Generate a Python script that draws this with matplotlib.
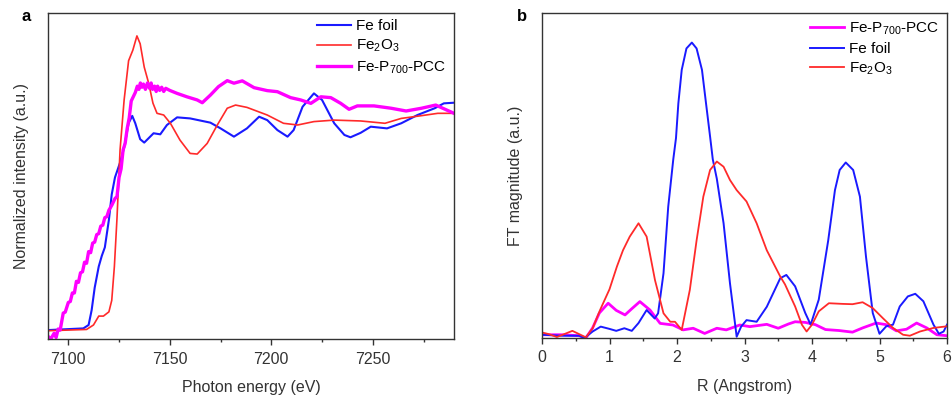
import matplotlib.pyplot as plt
from matplotlib.ticker import MultipleLocator

plt.rcParams['font.family'] = ['Liberation Sans', 'DejaVu Sans']
plt.rcParams['mathtext.fontset'] = 'custom'
plt.rcParams['mathtext.rm'] = 'Liberation Sans'
plt.rcParams['mathtext.it'] = 'Liberation Sans:italic'
plt.rcParams['mathtext.default'] = 'regular'

# ---- panel a: XANES (normalized intensity) ----
foil_e = [7090, 7107.4, 7110, 7111.5, 7113, 7115, 7116.5, 7118, 7120, 7121.4, 7123,
          7125.5, 7127.5, 7129.7, 7131.5, 7133, 7135.4, 7137.4, 7139.6, 7142, 7145.3,
          7148.6, 7153.6, 7160, 7170, 7175, 7181.6, 7188, 7194, 7198, 7203, 7208, 7211,
          7215.4, 7221, 7225, 7231, 7236, 7239, 7244, 7249, 7257, 7264, 7272, 7280.5,
          7285, 7290]
foil_mu = [0.0, 0.008, 0.024, 0.094, 0.20, 0.30, 0.35, 0.39, 0.52, 0.64, 0.72,
           0.79, 0.86, 0.975, 1.01, 0.975, 0.90, 0.884, 0.905, 0.928, 0.923,
           0.967, 1.003, 0.998, 0.978, 0.951, 0.912, 0.951, 1.006, 0.99, 0.943, 0.912, 0.943,
           1.053, 1.116, 1.085, 0.975, 0.92, 0.909, 0.93, 0.959, 0.951, 0.975, 1.014, 1.046,
           1.069, 1.072]

oxide_e = [7090, 7109, 7112.4, 7115, 7117.3, 7120, 7121.4, 7122.7, 7124, 7125.5, 7127.5,
           7129.7, 7131.8, 7133.8, 7135.4, 7137.4, 7139.6, 7141.7, 7143.7, 7147, 7150.3,
           7155, 7160, 7163.5, 7168.4, 7173.4, 7178.3, 7182.4, 7188, 7198, 7206, 7213,
           7221, 7231, 7244, 7256, 7264, 7274, 7282, 7290]
oxide_mu = [-0.003, 0.003, 0.024, 0.066, 0.066, 0.086, 0.14, 0.30, 0.53, 0.85, 1.085,
            1.27, 1.32, 1.387, 1.35, 1.24, 1.164, 1.07, 1.022, 1.014, 0.975,
            0.896, 0.833, 0.83, 0.88, 0.967, 1.046, 1.061, 1.05, 1.014, 0.975, 0.967,
            0.983, 0.99, 0.986, 0.975, 0.998, 1.011, 1.022, 1.022]

pcc_e = [7090, 7091.5, 7093, 7094, 7095, 7096, 7097.5, 7098.5, 7100, 7101, 7102, 7103,
         7104, 7105, 7106, 7107, 7108, 7109, 7110, 7111, 7112, 7113, 7114, 7115, 7116,
         7117, 7118, 7119, 7120, 7121.5, 7123, 7124, 7125, 7126, 7127, 7128, 7129, 7130,
         7131, 7132, 7133, 7134, 7134.8, 7135.5, 7136.3, 7137, 7138, 7139, 7140, 7140.8,
         7141.5, 7142.5, 7143.3, 7144, 7145, 7146, 7147, 7148, 7150, 7153.6, 7158.4,
         7163.5, 7166, 7170, 7174, 7178.3, 7181.6, 7185.7, 7191.5, 7198, 7203, 7209.5,
         7214.5, 7219.5, 7224.4, 7229.3, 7234.2, 7238.3, 7242.4, 7250.6, 7259, 7266.4,
         7274, 7281, 7290]
pcc_mu = [-0.03, -0.04, -0.015, -0.035, 0.005, 0.0, 0.08, 0.085, 0.13, 0.135, 0.175, 0.175,
          0.23, 0.225, 0.27, 0.275, 0.32, 0.315, 0.37, 0.365, 0.41, 0.415, 0.45, 0.455, 0.49,
          0.495, 0.53, 0.535, 0.565, 0.59, 0.62, 0.63, 0.72, 0.76, 0.85, 0.88, 0.95, 1.0,
          1.08, 1.10, 1.12, 1.15, 1.135, 1.165, 1.145, 1.16, 1.135, 1.165, 1.14, 1.165,
          1.135, 1.15, 1.125, 1.15, 1.13, 1.145, 1.125, 1.14, 1.13, 1.116, 1.10,
          1.085, 1.072, 1.108, 1.148, 1.176, 1.164, 1.175, 1.143, 1.129, 1.124, 1.096,
          1.085, 1.069, 1.10, 1.096, 1.069, 1.041, 1.057, 1.057, 1.046, 1.033,
          1.046, 1.061, 1.022]

# ---- panel b: Fourier transform magnitude ----
r_foil = [0, 0.3, 0.55, 0.63, 0.75, 0.87, 1.0, 1.1, 1.22, 1.33, 1.43, 1.55, 1.67, 1.72,
          1.8, 1.87, 1.945, 1.985, 2.02, 2.07, 2.14, 2.22, 2.29, 2.37, 2.43, 2.49, 2.53,
          2.59, 2.69, 2.785, 2.884, 2.95, 3.03, 3.18, 3.33, 3.53, 3.62, 3.75, 3.9, 3.98,
          4.1, 4.24, 4.34, 4.41, 4.5, 4.61, 4.71, 4.8, 4.9, 5.0, 5.1, 5.2, 5.3, 5.42,
          5.53, 5.65, 5.8, 5.88, 5.95, 6.0]
ft_foil = [0.010, 0.007, 0.007, 0.0, 0.02, 0.035, 0.028, 0.022, 0.03, 0.022, 0.046, 0.086,
           0.06, 0.076, 0.199, 0.404, 0.55, 0.615, 0.722, 0.825, 0.891, 0.909, 0.891, 0.825,
           0.722, 0.62, 0.55, 0.49, 0.353, 0.168, 0.004, 0.035, 0.055, 0.05, 0.096, 0.184,
           0.194, 0.159, 0.077, 0.041, 0.118, 0.30, 0.455, 0.517, 0.54, 0.517, 0.435, 0.25,
           0.077, 0.013, 0.036, 0.041, 0.097, 0.128, 0.136, 0.113, 0.041, 0.013, 0.02, 0.041]

r_oxide = [0, 0.1, 0.22, 0.33, 0.45, 0.55, 0.65, 0.75, 0.86, 1.0, 1.11, 1.2, 1.3, 1.43,
           1.55, 1.674, 1.8, 1.9, 1.97, 2.07, 2.19, 2.29, 2.39, 2.49, 2.59, 2.69, 2.785,
           2.884, 3.03, 3.18, 3.33, 3.53, 3.6, 3.75, 3.85, 3.92, 4.0, 4.1, 4.25, 4.45,
           4.6, 4.75, 4.9, 5.05, 5.2, 5.35, 5.45, 5.6, 5.8, 6.0]
ft_oxide = [0.017, 0.012, 0.003, 0.012, 0.022, 0.012, 0.002, 0.03, 0.086, 0.15, 0.22, 0.27,
            0.312, 0.353, 0.312, 0.178, 0.076, 0.05, 0.05, 0.025, 0.148, 0.30, 0.435, 0.517,
            0.543, 0.527, 0.486, 0.455, 0.42, 0.353, 0.27, 0.189, 0.165, 0.097, 0.041,
            0.02, 0.041, 0.082, 0.107, 0.105, 0.104, 0.11, 0.092, 0.061, 0.031, 0.01,
            0.007, 0.02, 0.031, 0.036]

r_pcc = [0, 0.3, 0.55, 0.65, 0.75, 0.85, 0.98, 1.1, 1.23, 1.33, 1.45, 1.6, 1.75, 1.94,
         2.09, 2.24, 2.41, 2.59, 2.73, 2.93, 3.08, 3.33, 3.5, 3.65, 3.75, 3.9, 4.05, 4.2,
         4.4, 4.6, 4.75, 4.95, 5.1, 5.25, 5.4, 5.55, 5.7, 5.85, 6.0]
ft_pcc = [0.01, 0.01, 0.007, 0.0, 0.031, 0.077, 0.107, 0.085, 0.071, 0.09, 0.112, 0.086,
          0.045, 0.04, 0.025, 0.03, 0.014, 0.03, 0.025, 0.04, 0.035, 0.042, 0.03, 0.043,
          0.05, 0.048, 0.041, 0.026, 0.023, 0.018, 0.031, 0.046, 0.041, 0.022, 0.027,
          0.046, 0.031, 0.01, 0.007]

BLUE = '#1a1aff'
RED = '#ff2a2a'
MAGENTA = '#ff00ff'
AXC = '#333333'
FS = 11.5
LEG_FS = 11

fig = plt.figure(figsize=(9.52, 3.95), dpi=100)
ax1 = fig.add_axes([48 / 952, 1 - 339 / 395, 406 / 952, 326 / 395])
ax2 = fig.add_axes([542 / 952, 1 - 338 / 395, 405 / 952, 325 / 395])

ax1.plot(foil_e, foil_mu, color=BLUE, lw=1.5, label='Fe foil')
ax1.plot(oxide_e, oxide_mu, color=RED, lw=1.2, label='Fe$_2$O$_3$')
ax1.plot(pcc_e, pcc_mu, color=MAGENTA, lw=2.4, label='Fe-P$_{700}$-PCC')
ax1.set_xlim(7090, 7290)
ax1.set_ylim(-0.042, 1.495)
ax1.xaxis.set_major_locator(MultipleLocator(50))
ax1.xaxis.set_minor_locator(MultipleLocator(25))
ax1.set_yticks([])
ax1.set_xlabel('Photon energy (eV)', fontsize=FS, color=AXC, labelpad=10)
ax1.set_ylabel('Normalized intensity (a.u.)', fontsize=FS, color=AXC, labelpad=14)
ax1.legend(loc='upper right', bbox_to_anchor=(1.0, 1.005), frameon=False, fontsize=LEG_FS,
           handlelength=2.2, labelspacing=0.32, borderaxespad=0.1, handletextpad=0.35)
ax1.text(-0.055, 0.988, 'a', transform=ax1.transAxes, fontsize=12, fontweight='bold',
         ha='center', va='center')

ax2.plot(r_pcc, ft_pcc, color=MAGENTA, lw=2.0, label='Fe-P$_{700}$-PCC')
ax2.plot(r_foil, ft_foil, color=BLUE, lw=1.4, label='Fe foil')
ax2.plot(r_oxide, ft_oxide, color=RED, lw=1.3, label='Fe$_2$O$_3$')
ax2.set_xlim(0, 6)
ax2.set_ylim(0, 1)
ax2.xaxis.set_major_locator(MultipleLocator(1))
ax2.xaxis.set_minor_locator(MultipleLocator(0.5))
ax2.set_yticks([])
ax2.set_xlabel('R (Angstrom)', fontsize=FS, color=AXC, labelpad=10)
ax2.set_ylabel('FT magnitude (a.u.)', fontsize=FS, color=AXC, labelpad=14)
ax2.legend(loc='upper right', bbox_to_anchor=(1.0, 1.0), frameon=False, fontsize=LEG_FS,
           handlelength=2.2, labelspacing=0.32, borderaxespad=0.1, handletextpad=0.35)
ax2.text(-0.05, 0.988, 'b', transform=ax2.transAxes, fontsize=12, fontweight='bold',
         ha='center', va='center')

for ax in (ax1, ax2):
    for spine in ax.spines.values():
        spine.set_color(AXC)
        spine.set_linewidth(1.0)
    ax.tick_params(axis='x', which='major', direction='out', length=4, width=1,
                   colors=AXC, labelsize=FS, pad=5)
    ax.tick_params(axis='x', which='minor', direction='out', length=2.5, width=1,
                   colors=AXC)

fig.savefig('out.png', dpi=100)
